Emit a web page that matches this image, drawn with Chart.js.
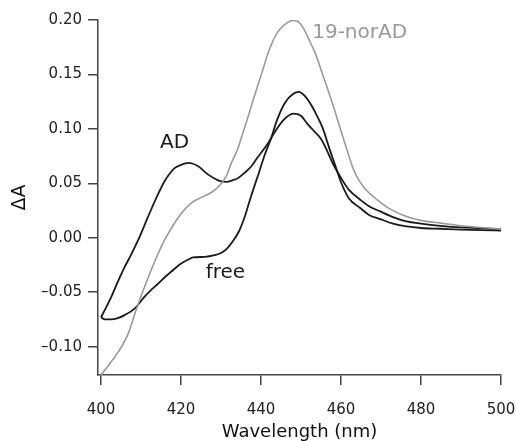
<!DOCTYPE html>
<html>
<head>
<meta charset="utf-8">
<script src="https://cdn.jsdelivr.net/npm/chart.js@4"></script>
<style>
  html, body { margin: 0; padding: 0; background: #fff; }
  #wrap { width: 516px; height: 441px; }
</style>
</head>
<body>
<div id="wrap"><canvas id="spectraChart" width="516" height="441"></canvas></div>
<script>
// difference spectra

const adNm = [400, 401, 402.6, 404, 405.9, 407.6, 409.3, 411.8, 414, 415.9, 418.4, 420, 421.8, 423, 424.3, 426.8, 429.3, 431.3, 433, 434.3, 436, 437.6, 439, 441.8, 443.1, 445.6, 448.1, 450, 451.4, 453, 454.8, 456, 458, 460, 462, 464.8, 467, 469.8, 473, 476.4, 480, 484.8, 490, 495, 500];
const adValues = [-0.073, -0.066, -0.054, -0.042, -0.027, -0.015, -0.002, 0.0196, 0.038, 0.052, 0.064, 0.067, 0.0688, 0.068, 0.0657, 0.058, 0.0528, 0.0513, 0.053, 0.055, 0.060, 0.0657, 0.073, 0.087, 0.095, 0.108, 0.114, 0.112, 0.1056, 0.099, 0.0918, 0.084, 0.068, 0.055, 0.044, 0.035, 0.029, 0.0242, 0.019, 0.015, 0.013, 0.011, 0.0095, 0.0088, 0.008];

const freeNm = [400, 401, 402.6, 404, 405.9, 408.4, 410.9, 412.5, 414.3, 416, 417.6, 419.5, 421.8, 423, 426, 428.4, 430, 431.5, 433, 434.5, 436, 437.5, 439.5, 441, 442.5, 444, 446, 448, 449.5, 451, 452.7, 454, 455.5, 457, 458.5, 460, 462, 464.8, 467, 469.8, 473, 476.4, 480, 484.8, 490, 495, 500];
const freeValues = [-0.073, -0.075, -0.075, -0.074, -0.071, -0.065, -0.054, -0.048, -0.042, -0.036, -0.031, -0.025, -0.020, -0.018, -0.0175, -0.016, -0.014, -0.010, -0.003, 0.006, 0.020, 0.038, 0.060, 0.077, 0.091, 0.108, 0.124, 0.132, 0.134, 0.130, 0.121, 0.112, 0.100, 0.083, 0.067, 0.051, 0.036, 0.0273, 0.021, 0.0172, 0.013, 0.0104, 0.009, 0.0083, 0.0075, 0.007, 0.0067];

const norNm = [400, 402, 404.3, 406.8, 408.8, 410.9, 413.4, 415.9, 418.4, 420, 422.6, 424.5, 426.8, 428.5, 430.1, 431.5, 432.6, 434, 435.1, 436.5, 438, 440, 442, 444, 446, 448, 449, 450.5, 452, 453.5, 455.5, 458, 460, 462, 463, 464, 465, 466, 468, 472, 476, 480, 485, 490, 495, 500];
const norValues = [-0.126, -0.1165, -0.105, -0.088, -0.066, -0.045, -0.022, -0.002, 0.0135, 0.022, 0.032, 0.036, 0.040, 0.044, 0.050, 0.058, 0.0688, 0.080, 0.092, 0.108, 0.126, 0.149, 0.172, 0.188, 0.196, 0.1995, 0.199, 0.193, 0.182, 0.170, 0.149, 0.122, 0.098, 0.075, 0.064, 0.056, 0.050, 0.045, 0.038, 0.027, 0.020, 0.016, 0.0135, 0.011, 0.0095, 0.008];

const xTicks = [400, 420, 440, 460, 480, 500];
const yTicks = [-0.10, -0.05, 0.00, 0.05, 0.10, 0.15, 0.20];

const toPoints = (xs, ys) => xs.map((x, i) => ({ x: x, y: ys[i] }));

const FONT = "'DejaVu Sans', Verdana, sans-serif";

// curve labels, placed in data coordinates
const curveLabels = {
  id: 'curveLabels',
  afterDatasetsDraw(chart) {
    const { ctx, scales } = chart;
    const items = [
      { text: 'AD', x: 418.4, y: 0.087, color: '#1a1a1a', align: 'center' },
      { text: 'free', x: 431.1, y: -0.032, color: '#1a1a1a', align: 'center' },
      { text: '19-norAD', x: 452.8, y: 0.188, color: '#999999', align: 'left' }
    ];
    ctx.save();
    ctx.font = '20px ' + FONT;
    ctx.textBaseline = 'middle';
    items.forEach(it => {
      ctx.fillStyle = it.color;
      ctx.textAlign = it.align;
      ctx.fillText(it.text, scales.x.getPixelForValue(it.x), scales.y.getPixelForValue(it.y));
    });
    ctx.restore();
  }
};

const ctx = document.getElementById('spectraChart').getContext('2d');

new Chart(ctx, {
  type: 'line',
  data: {
    datasets: [
      {
        label: '19-norAD',
        data: toPoints(norNm, norValues),
        borderColor: '#9a9a9a',
        borderWidth: 1.6
      },
      {
        label: 'AD',
        data: toPoints(adNm, adValues),
        borderColor: '#1a1a1a',
        borderWidth: 1.8
      },
      {
        label: 'free',
        data: toPoints(freeNm, freeValues),
        borderColor: '#1a1a1a',
        borderWidth: 1.8
      }
    ]
  },
  options: {
    responsive: false,
    animation: false,
    events: [],
    layout: { padding: { top: 20, right: 0, left: 0, bottom: 0 } },
    elements: {
      point: { radius: 0 },
      line: { cubicInterpolationMode: 'monotone', fill: false }
    },
    scales: {
      x: {
        type: 'linear',
        min: 399.25,
        max: 500,
        afterBuildTicks: scale => { scale.ticks = xTicks.map(v => ({ value: v })); },
        afterFit: scale => {
          scale.height = 66;
          scale.paddingLeft = 0;
          scale.paddingRight = 15;
        },
        grid: { drawOnChartArea: false, color: '#444', tickLength: 10, lineWidth: 1.5 },
        border: { color: '#444', width: 1.5 },
        ticks: { color: '#222', font: { family: FONT, size: 15 }, padding: 16, maxRotation: 0 },
        title: {
          display: true,
          text: 'Wavelength (nm)',
          color: '#111',
          font: { family: FONT, size: 18 },
          padding: { top: 0, bottom: -2 }
        }
      },
      y: {
        min: -0.126,
        max: 0.2,
        afterBuildTicks: scale => { scale.ticks = yTicks.map(v => ({ value: v })); },
        afterFit: scale => { scale.width = 98; },
        grid: { drawOnChartArea: false, color: '#444', tickLength: 10, lineWidth: 1.5 },
        border: { color: '#444', width: 1.5 },
        ticks: {
          color: '#222',
          font: { family: FONT, size: 15 },
          padding: 6,
          callback: v => (v < 0 ? '\u2013' : '') + Math.abs(v).toFixed(2)
        },
        title: {
          display: true,
          text: '\u0394A',
          color: '#111',
          font: { family: FONT, size: 19 },
          padding: { top: 9, bottom: 0 }
        }
      }
    },
    plugins: {
      legend: { display: false },
      tooltip: { enabled: false }
    }
  },
  plugins: [curveLabels]
});
</script>
</body>
</html>
